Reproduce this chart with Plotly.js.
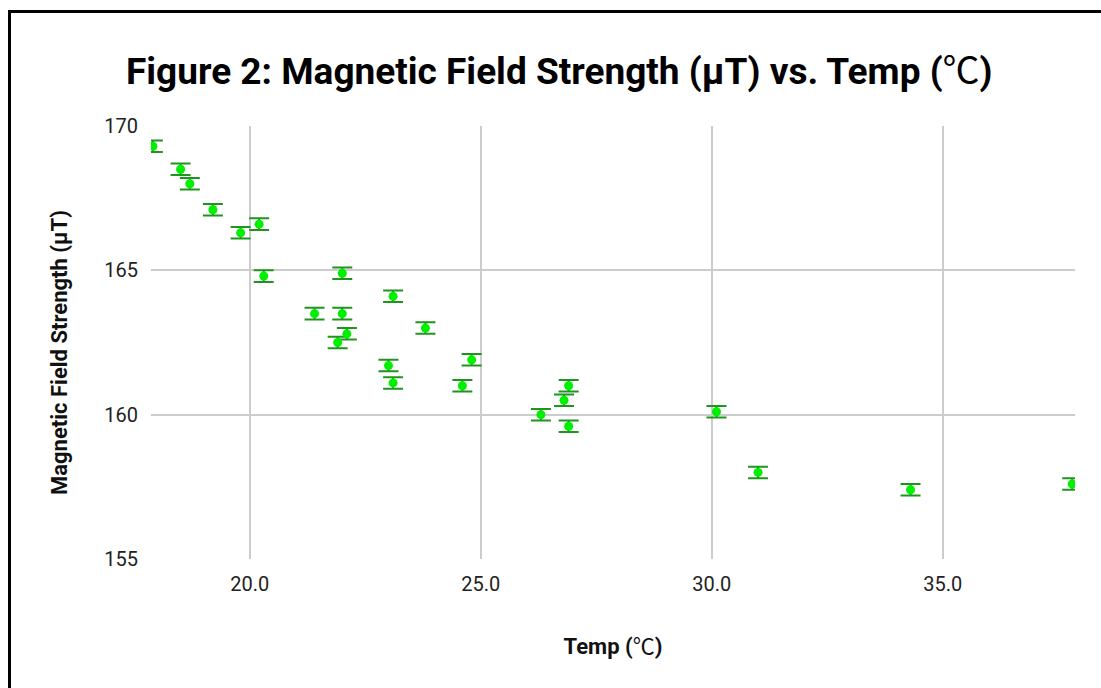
<!DOCTYPE html>
<html>
<head>
<meta charset="utf-8">
<script src="https://cdn.plot.ly/plotly-3.0.1.min.js"></script>
<style>
  html, body { margin: 0; padding: 0; background: #fff; }
  #chart { width: 1101px; height: 688px; position: relative; }
  #frame { position: absolute; left: 8px; top: 10px; width: 1200px; height: 800px;
           border-left: 3px solid #000; border-top: 3px solid #000; pointer-events: none; }
</style>
</head>
<body>
<div id="chart"></div>
<div id="frame"></div>
<script>
// Temperature (℃)
const temps = [17.9, 18.5, 18.7, 19.2, 19.8, 20.2, 20.3, 22.0, 21.4, 22.0, 22.1, 21.9, 23.1,
               23.0, 23.1, 23.8, 24.8, 24.6, 26.3, 26.9, 26.8, 26.9, 30.1, 31.0, 34.3, 37.8];
// Magnetic field strength (μT)
const fields = [169.3, 168.5, 168.0, 167.1, 166.3, 166.6, 164.8, 164.9, 163.5, 163.5, 162.8, 162.5, 164.1,
                161.7, 161.1, 163.0, 161.9, 161.0, 160.0, 161.0, 160.5, 159.6, 160.1, 158.0, 157.4, 157.6];
// Uncertainty (μT)
const fieldError = 0.2;

const xTickVals = [20, 25, 30, 35];
const xTickText = ["20.0", "25.0", "30.0", "35.0"];
const yTickVals = [155, 160, 165, 170];
const yTickText = ["155", "160", "165", "170"];

const degC = '<span style="font-family:\'Noto Sans CJK JP\';font-weight:normal">℃</span>';

const trace = {
  type: "scatter",
  mode: "markers",
  x: temps,
  y: fields,
  marker: { color: "#00f000", size: 9 },
  error_y: { type: "constant", value: fieldError, color: "#1e961e", thickness: 2, width: 10 },
  hoverinfo: "none"
};

const layout = {
  width: 1101,
  height: 688,
  paper_bgcolor: "#ffffff",
  plot_bgcolor: "#ffffff",
  margin: { l: 151, r: 26, t: 126, b: 129 },
  showlegend: false,
  font: { family: "Roboto, sans-serif", color: "#222" },
  title: {
    text: "<b>Figure 2: Magnetic Field Strength (μT) vs. Temp (" + degC + ")</b>",
    font: { family: "Roboto, sans-serif", size: 37, color: "#000" },
    x: 0.508, xref: "container", xanchor: "center",
    y: 1 - 71 / 688, yref: "container", yanchor: "middle"
  },
  xaxis: {
    range: [17.86, 37.86],
    tickvals: xTickVals,
    ticktext: xTickText,
    showgrid: true,
    gridcolor: "#cccccc",
    gridwidth: 2,
    zeroline: false,
    showline: false,
    ticks: "",
    tickfont: { size: 20, color: "#222" },
    ticklabelstandoff: 11,
    title: { text: "<b>Temp (" + degC + ")</b>", font: { size: 22, color: "#111" }, standoff: 43 }
  },
  yaxis: {
    range: [155, 170],
    tickvals: yTickVals,
    ticktext: yTickText,
    showgrid: true,
    gridcolor: "#cccccc",
    gridwidth: 2,
    zeroline: false,
    showline: false,
    ticks: "",
    tickfont: { size: 20, color: "#222" },
    ticklabelstandoff: 12
  },
  annotations: [{
    text: "<b>Magnetic Field Strength (μT)</b>",
    font: { family: "Roboto, sans-serif", size: 22, color: "#111" },
    textangle: -90,
    xref: "paper", yref: "paper",
    x: (59 - 151) / 924, y: 1 - (353 - 126) / 433,
    xanchor: "center", yanchor: "middle",
    showarrow: false
  }]
};

Plotly.newPlot("chart", [trace], layout, { staticPlot: true, displayModeBar: false });
</script>
</body>
</html>
